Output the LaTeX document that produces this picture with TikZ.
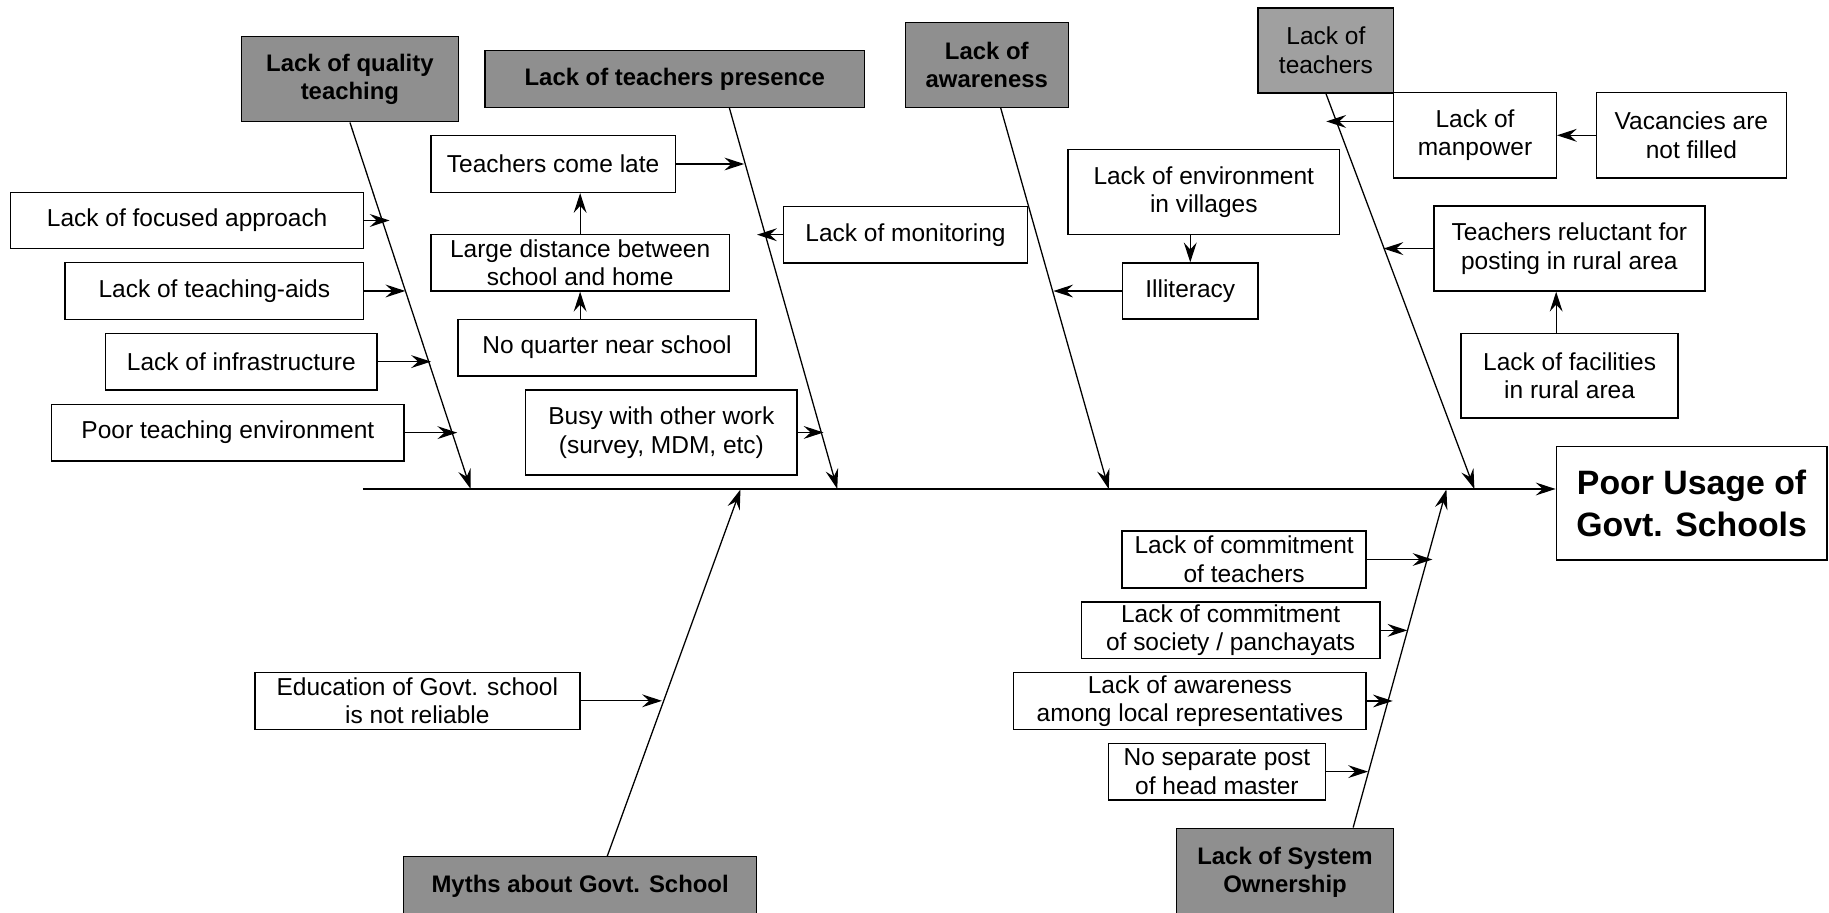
\documentclass[tikz,border=0pt]{standalone}
\usepackage{fontspec}
\setmainfont{Liberation Sans}
\usetikzlibrary{arrows.meta,calc}
\definecolor{catgray}{RGB}{143,143,143}
\definecolor{ltgray}{RGB}{160,160,160}
\begin{document}
\begin{tikzpicture}[x=1pt,y=-1pt,
  box/.style={draw=black, line width=1.2pt, fill=white, inner sep=0pt, align=center,
    font=\fontsize{21}{24.5}\selectfont},
  cat/.style={box, fill=catgray, font=\fontsize{20.5}{24.5}\selectfont\bfseries},
  sz/.style 2 args={minimum width=#1pt, minimum height=#2pt},
  arr/.style={line width=1.1pt, -{Stealth[length=17pt,width=11pt,inset=6pt]}},
]
\useasboundingbox (0,0) rectangle (1568,782);

% category boxes
\node[cat, sz={186}{73}] (q) at (300,67.9) {Lack of quality\\teaching};
\node[cat, sz={325.7}{48.6}] (pres) at (578.5,67.7) {Lack of teachers presence};
\node[cat, sz={139.7}{72.6}] (aw) at (846,55.7) {Lack of\\awareness};
\node[box, fill=ltgray, sz={116.2}{72.6}] (lt) at (1136.7,43.3) {Lack of\\teachers};
\node[cat, sz={185.9}{75.9}] (sys) at (1101.65,748) {Lack of System\\Ownership};
\node[cat, sz={302.7}{51.6}] (myths) at (497.35,760.2) {Myths about Govt. School};

% effect
\node[box, sz={232}{97.4}, font=\fontsize{29}{36}\selectfont\bfseries] (poor) at (1450.2,431.4) {Poor Usage of\\Govt. Schools};

% causes
\node[box, sz={139.3}{72.9}] (mp) at (1264.5,116) {Lack of\\manpower};
\node[box, sz={162.9}{72.9}] (vac) at (1450,116) {Vacancies are\\not filled};
\node[box, sz={232.8}{72.8}] (env) at (1032,164.6) {Lack of environment\\in villages};
\node[box, sz={116.4}{48}] (ill) at (1020.4,249.5) {Illiteracy};
\node[box, sz={209}{48.6}] (mon) at (776.3,201.2) {Lack of monitoring};
\node[box, sz={209.6}{48.6}] (late) at (474.2,140.6) {Teachers come late};
\node[box, sz={255.9}{48.3}] (dist) at (497.35,225.35) {Large distance between\\school and home};
\node[box, sz={255.5}{48.6}] (quar) at (520.45,298) {No quarter near school};
\node[box, sz={232.5}{72.9}] (busy) at (567,370.75) {Busy with other work\\(survey, MDM, etc)};
\node[box, sz={302.5}{48.3}] (foc) at (160.45,189) {Lack of focused approach};
\node[box, sz={255.9}{48.5}] (aids) at (183.75,249.45) {Lack of teaching-aids};
\node[box, sz={232.6}{48.6}] (infra) at (206.9,310) {Lack of infrastructure};
\node[box, sz={302.1}{48.6}] (penv) at (195.35,370.9) {Poor teaching environment};
\node[box, sz={232.4}{72.8}] (rel) at (1345.4,213.1) {Teachers reluctant for\\posting in rural area};
\node[box, sz={186}{72.2}] (fac) at (1345.6,322.1) {Lack of facilities\\in rural area};
\node[box, sz={209.2}{48.9}] (ct) at (1066.6,479.65) {Lack of commitment\\of teachers};
\node[box, sz={255.9}{48.6}] (cs) at (1055,540.4) {Lack of commitment\\of society / panchayats};
\node[box, sz={302.2}{48.5}] (al) at (1020.1,600.95) {Lack of awareness\\among local representatives};
\node[box, sz={185.9}{48.6}] (ns) at (1043.25,661.5) {No separate post\\of head master};
\node[box, sz={278.6}{48.8}] (edu) at (357.8,600.8) {Education of Govt. school\\is not reliable};

% spine and bone ends
\coordinate (sp0) at (311,419.2);
\coordinate (s1) at (403.5,419.2);
\coordinate (s2) at (717.8,419.2);
\coordinate (s3) at (950.5,419.2);
\coordinate (s4) at (1264,419.2);
\coordinate (s5) at (634.8,419.6);
\coordinate (s6) at (1240,419.6);

\draw[arr] (sp0) -- ([yshift=12.2pt]poor.west);
\draw[arr] (q.south) -- (s1);
\draw[arr] ([xshift=46.8pt]pres.south) -- (s2);
\draw[arr] ([xshift=11.9pt]aw.south) -- (s3);
\draw[arr] (lt.south) -- (s4);
\draw[arr] ([xshift=23.3pt]myths.north) -- (s5);
\draw[arr] ([xshift=58.4pt]sys.north) -- (s6);

% tips of sub-arrows on bones
\coordinate (t-foc) at (334,189);
\coordinate (t-aids) at (347.5,249.45);
\coordinate (t-infra) at (369.5,310);
\coordinate (t-penv) at (392,370.9);
\coordinate (t-late) at (638,140.6);
\coordinate (t-mon) at (649,201.2);
\coordinate (t-busy) at (706,370.75);
\coordinate (t-ill) at (903,249.5);
\coordinate (t-mp) at (1137,104.1);
\coordinate (t-rel) at (1186,213.1);
\coordinate (t-ct) at (1228,479.65);
\coordinate (t-cs) at (1206.5,540.4);
\coordinate (t-al) at (1194,600.95);
\coordinate (t-ns) at (1172.8,661.5);
\coordinate (t-edu) at (567.5,600.8);

\draw[arr] (foc.east) -- (t-foc);
\draw[arr] (aids.east) -- (t-aids);
\draw[arr] (infra.east) -- (t-infra);
\draw[arr] (penv.east) -- (t-penv);
\draw[arr] (late.east) -- (t-late);
\draw[arr] (mon.west) -- (t-mon);
\draw[arr] (busy.east) -- (t-busy);
\draw[arr] (ill.west) -- (t-ill);
\draw[arr] ([yshift=11.9pt]mp.west) -- (t-mp);
\draw[arr] (rel.west) -- (t-rel);
\draw[arr] (ct.east) -- (t-ct);
\draw[arr] (cs.east) -- (t-cs);
\draw[arr] (al.east) -- (t-al);
\draw[arr] (ns.east) -- (t-ns);
\draw[arr] (edu.east) -- (t-edu);

% chains between causes
\draw[arr] (dist.north) -- (dist.north |- late.south);
\draw[arr] (dist.south |- quar.north) -- (dist.south);
\draw[arr] (env.south -| ill.north) -- (ill.north);
\draw[arr] ([xshift=-11.5pt]fac.north) -- ([xshift=-11.5pt]fac.north |- rel.south);
\draw[arr] (vac.west) -- (mp.east);
\end{tikzpicture}
\end{document}
